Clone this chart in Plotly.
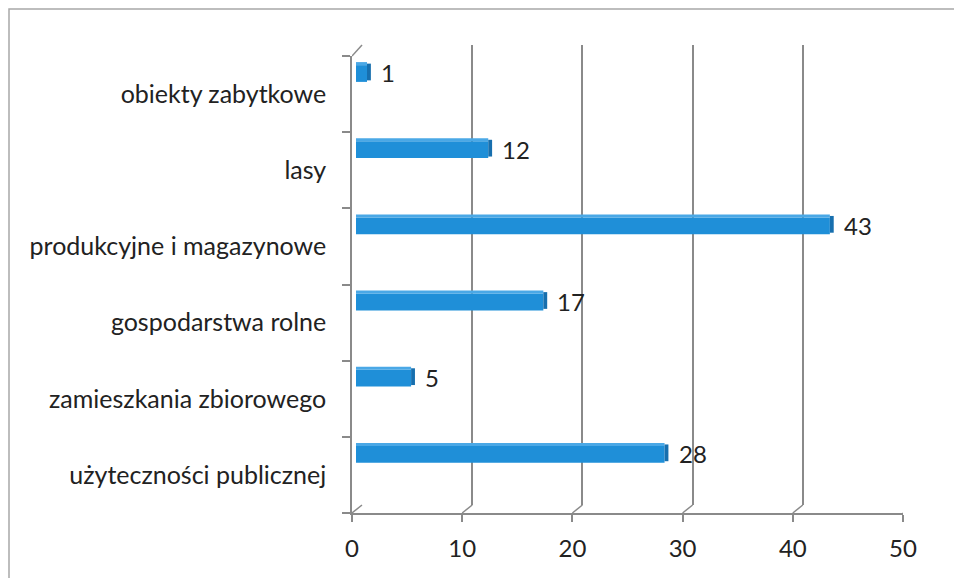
import plotly.graph_objects as go

# ---- data (bottom to top, as drawn) ----
categories = [
    "użyteczności publicznej",
    "zamieszkania zbiorowego",
    "gospodarstwa rolne",
    "produkcyjne i magazynowe",
    "lasy",
    "obiekty zabytkowe",
]
values = [28, 5, 17, 43, 12, 1]
x_ticks = [0, 10, 20, 30, 40, 50]

# ---- layout geometry (pixels; page body adds an 8px offset) ----
W, H = 962, 578
OFF = 8
ML, MT = 352 - OFF, 45 - OFF
PW, PH = 561, 468
MR = W - ML - PW
MB = H - MT - PH
DEPTH_X, DEPTH_Y = 10, 8
FONT = "Lato"
TXT = "#222222"
GRID = "#8a8a8a"
BLUE = "#1f8fd8"
BLUE_DARK = "#176fae"
BLUE_LIGHT = "#4aa8e6"

front_w = PW - DEPTH_X
front_h = PH - 11
px_per_unit = front_w / 50.0

fig = go.Figure()

# dummy trace to activate the back-wall axes
fig.add_trace(go.Scatter(
    x=[None], y=[None], xaxis="x2", yaxis="y2",
    mode="markers", hoverinfo="skip", showlegend=False,
))

# front face of bars
fig.add_trace(go.Bar(
    y=categories, x=values, orientation="h",
    xaxis="x3", yaxis="y",
    offset=0.16, width=0.22,
    marker=dict(color=BLUE, line=dict(width=0)),
    hoverinfo="x+y", showlegend=False,
))
# top face of bars (lighter strip)
fig.add_trace(go.Bar(
    y=categories, x=values, orientation="h",
    xaxis="x3", yaxis="y",
    offset=0.38, width=0.04,
    marker=dict(color=BLUE_LIGHT, line=dict(width=0)),
    hoverinfo="skip", showlegend=False,
))
# right end cap (darker)
fig.add_trace(go.Bar(
    y=categories, x=[0.35] * len(values), base=values, orientation="h",
    xaxis="x3", yaxis="y",
    offset=0.18, width=0.22,
    marker=dict(color=BLUE_DARK, line=dict(width=0)),
    hoverinfo="skip", showlegend=False,
))

# value labels
for c, v in zip(categories, values):
    fig.add_annotation(
        x=v, y=c, xref="x3", yref="y",
        text=str(v), showarrow=False,
        xanchor="left", yanchor="middle",
        xshift=12, yshift=0.29 * (front_h / 6) - 1,
        font=dict(family=FONT, size=24, color=TXT),
    )

# diagonal connectors between front axis and back wall
shapes = []
for t in x_ticks:
    shapes.append(dict(
        type="line", xref="x", yref="paper",
        x0=t, y0=0, x1=t + DEPTH_X / px_per_unit, y1=DEPTH_Y / PH,
        line=dict(color=GRID, width=1.5),
    ))
shapes.append(dict(
    type="line", xref="x", yref="paper",
    x0=0, y0=front_h / PH, x1=DEPTH_X / px_per_unit, y1=1,
    line=dict(color=GRID, width=1.5),
))
# outer frame of the chart area
shapes.append(dict(
    type="rect", xref="paper", yref="paper",
    x0=(1 - ML) / PW, x1=(975 - ML) / PW,
    y0=(MT + PH - 590) / PH, y1=(MT + PH - 1) / PH,
    line=dict(color="#a8a8a8", width=1.5), fillcolor="rgba(0,0,0,0)",
    layer="below",
))

fig.update_layout(
    width=W, height=H,
    margin=dict(l=ML, r=MR, t=MT, b=MB),
    paper_bgcolor="white", plot_bgcolor="rgba(0,0,0,0)",
    showlegend=False,
    barmode="overlay",
    shapes=shapes,
    font=dict(family=FONT, size=24, color=TXT),
    xaxis=dict(
        domain=[0, front_w / PW], range=[0, 50], anchor="y",
        tickvals=x_ticks, ticktext=[str(t) for t in x_ticks],
        showgrid=False, zeroline=False,
        showline=True, linecolor=GRID, linewidth=1.5,
        ticks="outside", ticklen=7, tickcolor=GRID, tickwidth=1.5,
        ticklabelstandoff=6,
        tickfont=dict(family=FONT, size=24, color=TXT),
        fixedrange=True,
    ),
    yaxis=dict(
        domain=[0, front_h / PH], range=[-0.5, 5.5], anchor="x",
        type="category",
        showgrid=False, zeroline=False,
        showline=True, linecolor=GRID, linewidth=1.5,
        ticks="outside", tickson="boundaries", ticklen=8,
        tickcolor=GRID, tickwidth=1.5,
        ticklabelstandoff=19,
        tickfont=dict(family=FONT, size=25, color=TXT),
        fixedrange=True,
    ),
    xaxis2=dict(
        domain=[DEPTH_X / PW, 1], range=[0, 50], anchor="y2",
        tickvals=x_ticks, showgrid=True, gridcolor=GRID, gridwidth=1.5,
        showticklabels=False, ticks="", showline=False, zeroline=False,
        fixedrange=True,
    ),
    yaxis2=dict(
        domain=[DEPTH_Y / PH, 1], range=[0, 1], anchor="x2",
        showgrid=False, showticklabels=False, ticks="",
        showline=False, zeroline=False, fixedrange=True,
    ),
    xaxis3=dict(
        domain=[4 / PW, (4 + front_w) / PW], range=[0, 50], anchor="y",
        visible=False, fixedrange=True,
    ),
)

fig.write_html("out.html")
